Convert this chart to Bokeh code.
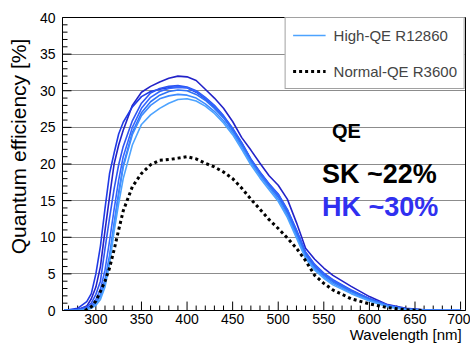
from bokeh.plotting import figure
from bokeh.models import Range1d, FixedTicker, Label, Legend, LegendItem
from bokeh.embed import file_html
from bokeh.resources import INLINE

# ---- data ----
WL = [265, 280, 290, 295, 300, 305, 310, 315, 320, 325, 330, 340, 350, 360, 370, 380,
      390, 400, 410, 420, 430, 440, 450, 460, 470, 480, 490, 500, 510, 520, 530, 540,
      550, 560, 580, 600, 620, 640, 660, 680, 700]

HQ_1 = [0, 0.1, 0.6, 1.6, 3.2, 6.0, 10.9, 15.5, 20.0, 22.6, 24.6, 28.0, 29.8, 30.6, 31.2, 31.7,
        32.0, 31.9, 31.4, 30.2, 29.0, 27.6, 25.8, 23.6, 21.9, 20.1, 18.4, 17.1, 15.2, 12.0, 8.5, 7.0,
        5.8, 4.8, 3.3, 1.9, 0.8, 0.3, 0.1, 0, 0]
HQ_2 = [0, 0.3, 1.2, 2.3, 5.0, 8.8, 13.9, 18.7, 21.5, 24.1, 25.7, 27.8, 29.2, 29.9, 30.2, 30.4,
        30.5, 30.4, 29.8, 28.9, 27.8, 26.4, 24.7, 22.8, 20.6, 18.8, 17.2, 15.8, 13.6, 10.8, 7.8, 6.1,
        5.0, 4.1, 2.7, 1.6, 0.7, 0.2, 0.05, 0, 0]
HQ_3 = [0, 0.1, 0.5, 1.0, 2.2, 4.0, 8.4, 12.6, 16.6, 19.9, 22.4, 25.9, 28.3, 29.7, 30.3, 30.6,
        30.7, 30.5, 30.0, 29.1, 28.0, 26.6, 24.9, 22.9, 20.7, 18.9, 17.3, 15.9, 13.8, 11.0, 8.0, 6.3,
        5.1, 4.2, 2.8, 1.6, 0.7, 0.2, 0.05, 0, 0]
HQ_4 = [0, 0, 0.3, 0.7, 1.5, 2.9, 5.5, 9.5, 13.8, 17.8, 21.0, 25.0, 27.6, 29.1, 29.9, 30.3,
        30.5, 30.4, 29.9, 29.0, 27.9, 26.5, 24.8, 22.8, 20.6, 18.8, 17.2, 15.8, 13.7, 10.9, 7.9, 6.2,
        5.0, 4.1, 2.7, 1.6, 0.7, 0.2, 0.05, 0, 0]
HQ_5 = [0, 0, 0.2, 0.5, 1.1, 2.2, 4.2, 7.5, 11.9, 16.1, 19.8, 24.3, 27.0, 28.5, 29.4, 29.9,
        30.1, 30.0, 29.5, 28.7, 27.6, 26.3, 24.6, 22.6, 20.4, 18.6, 17.0, 15.5, 13.3, 10.5, 7.6, 5.9,
        4.8, 3.9, 2.6, 1.5, 0.6, 0.2, 0.05, 0, 0]
HQ_6 = [0, 0, 0.2, 0.4, 0.9, 1.9, 3.7, 7.0, 11.6, 15.8, 19.6, 24.0, 26.6, 28.0, 28.9, 29.3,
        29.5, 29.4, 29.0, 28.2, 27.2, 25.9, 24.3, 22.3, 20.2, 18.4, 16.8, 15.2, 13.0, 10.2, 7.3, 5.7,
        4.6, 3.7, 2.4, 1.4, 0.6, 0.1, 0, 0, 0]
HQ_7 = [0, 0, 0.1, 0.3, 0.7, 1.5, 3.2, 6.4, 10.8, 14.6, 18.0, 22.6, 25.4, 26.7, 27.6, 28.3,
        28.8, 28.9, 28.6, 27.9, 26.9, 25.6, 24.0, 22.0, 19.9, 18.1, 16.5, 14.9, 12.7, 9.9, 7.1, 5.5,
        4.4, 3.5, 2.3, 1.3, 0.5, 0.1, 0, 0, 0]

HQ_CURVES = [HQ_1, HQ_2, HQ_3, HQ_4, HQ_5, HQ_6, HQ_7]
HQ_COLORS = ["#2222c8", "#1f3ae6", "#2d55f2", "#3366ff", "#2f72f5", "#3f8cff", "#4da3ff"]

WL_R3600 = [288, 295, 300, 305, 310, 315, 320, 325, 330, 340, 350, 360, 370, 380, 390, 400,
            410, 420, 430, 440, 450, 460, 470, 480, 490, 500, 510, 520, 530, 540, 550, 560,
            580, 600, 620, 640, 660]
QE_R3600 = [0, 0.5, 1.3, 2.6, 4.0, 5.8, 8.3, 11.0, 13.6, 16.9, 18.7, 19.9, 20.5, 20.6, 20.8, 21.0,
            20.7, 20.1, 19.6, 18.9, 18.0, 16.7, 15.2, 13.8, 12.4, 11.2, 9.9, 8.5, 6.8, 4.8, 3.7, 2.8,
            1.6, 0.9, 0.4, 0.1, 0]

X_TICKS = [300, 350, 400, 450, 500, 550, 600, 650, 700]
X_MINOR = [270, 280, 290, 310, 320, 330, 340, 360, 370, 380, 390, 410, 420, 430, 440, 460, 470,
           480, 490, 510, 520, 530, 540, 560, 570, 580, 590, 610, 620, 630, 640, 660, 670, 680, 690]
Y_TICKS = [0, 5, 10, 15, 20, 25, 30, 35, 40]
Y_MINOR = [v for v in range(1, 40) if v % 5 != 0]
Y_GRID = [5, 10, 15, 20, 25, 30, 35]

LEGEND_HQ = "High-QE R12860"
LEGEND_NQ = "Normal-QE R3600"
X_TITLE = "Wavelength [nm]"
Y_TITLE = "Quantum efficiency [%]"
NOTES = ["QE", "SK ~22%", "HK ~30%"]

FONT = "Liberation Sans"
X0, X1 = 263.4, 705.4
Y0, Y1 = 0, 40
NBSP = "\u00a0"

p = figure(width=470, height=345, output_backend="svg", toolbar_location=None,
           x_range=Range1d(X0, X1), y_range=Range1d(Y0, Y1),
           min_border_left=62, min_border_right=5, min_border_top=17, min_border_bottom=33)
p.background_fill_color = "white"
p.border_fill_color = "white"
p.outline_line_color = "black"
p.outline_line_width = 1

p.xgrid.visible = False
p.ygrid.ticker = FixedTicker(ticks=Y_GRID)
p.ygrid.grid_line_color = "black"
p.ygrid.grid_line_dash = "1 1"
p.ygrid.grid_line_width = 1
p.ygrid.grid_line_alpha = 0.9

p.xaxis.ticker = FixedTicker(ticks=X_TICKS)
p.yaxis.ticker = FixedTicker(ticks=Y_TICKS)
for ax in (p.xaxis[0], p.yaxis[0]):
    ax.major_tick_in = 0
    ax.major_tick_out = 0
    ax.minor_tick_in = 0
    ax.minor_tick_out = 0
    ax.axis_line_color = "black"
    ax.major_label_text_font = FONT
    ax.major_label_text_font_size = "14px"
    ax.major_label_text_color = "black"
    ax.axis_label_text_font = FONT
    ax.axis_label_text_font_style = "normal"
    ax.axis_label_text_color = "black"
p.xaxis.major_label_standoff = 3
p.yaxis.major_label_standoff = 7

# ROOT places axis titles at the axis end; shift the centred titles with leading no-break spaces
p.xaxis.axis_label = NBSP * 68 + X_TITLE
p.xaxis.axis_label_text_font_size = "15px"
p.xaxis.axis_label_standoff = -1
p.yaxis.axis_label = NBSP * 6 + Y_TITLE
p.yaxis.axis_label_text_font_size = "21px"
p.yaxis.axis_label_standoff = 7

# inward ROOT-style ticks on bottom and left (lengths in px converted to data units)
px_x = (X1 - X0) / 403.0
px_y = (Y1 - Y0) / 295.0
p.segment(x0=X_TICKS, y0=[Y0] * len(X_TICKS), x1=X_TICKS, y1=[Y0 + 9 * px_y] * len(X_TICKS),
          line_color="black", line_width=1)
p.segment(x0=X_MINOR, y0=[Y0] * len(X_MINOR), x1=X_MINOR, y1=[Y0 + 5 * px_y] * len(X_MINOR),
          line_color="black", line_width=1)
p.segment(x0=[X0] * len(Y_TICKS), y0=Y_TICKS, x1=[X0 + 9 * px_x] * len(Y_TICKS), y1=Y_TICKS,
          line_color="black", line_width=1)
p.segment(x0=[X0] * len(Y_MINOR), y0=Y_MINOR, x1=[X0 + 5 * px_x] * len(Y_MINOR), y1=Y_MINOR,
          line_color="black", line_width=1)

renderers = []
for ys, col in zip(HQ_CURVES, HQ_COLORS):
    r = p.line(WL, ys, line_color=col, line_width=1.6)
    renderers.append(r)
rk = p.line(WL_R3600, QE_R3600, line_color="black", line_width=3, line_dash="3 3")

legend = Legend(items=[LegendItem(label=LEGEND_HQ, renderers=[renderers[-1]]),
                       LegendItem(label=LEGEND_NQ, renderers=[rk])],
                location="top_right", margin=0, padding=7, spacing=16,
                label_height=20, glyph_height=20, glyph_width=33, label_standoff=8,
                label_text_font=FONT, label_text_font_size="15px",
                border_line_color="#444444", border_line_width=1,
                background_fill_color="white", background_fill_alpha=1)
p.add_layout(legend)

p.add_layout(Label(x=559, y=23.0, text=NOTES[0], text_font=FONT, text_font_size="20px",
                   text_font_style="bold", text_color="black"))
p.add_layout(Label(x=548, y=16.6, text=NOTES[1], text_font=FONT, text_font_size="27px",
                   text_font_style="bold", text_color="black"))
p.add_layout(Label(x=548, y=12.1, text=NOTES[2], text_font=FONT, text_font_size="27px",
                   text_font_style="bold", text_color="#3030f0"))

open("out.html", "w").write(file_html(p, INLINE))
